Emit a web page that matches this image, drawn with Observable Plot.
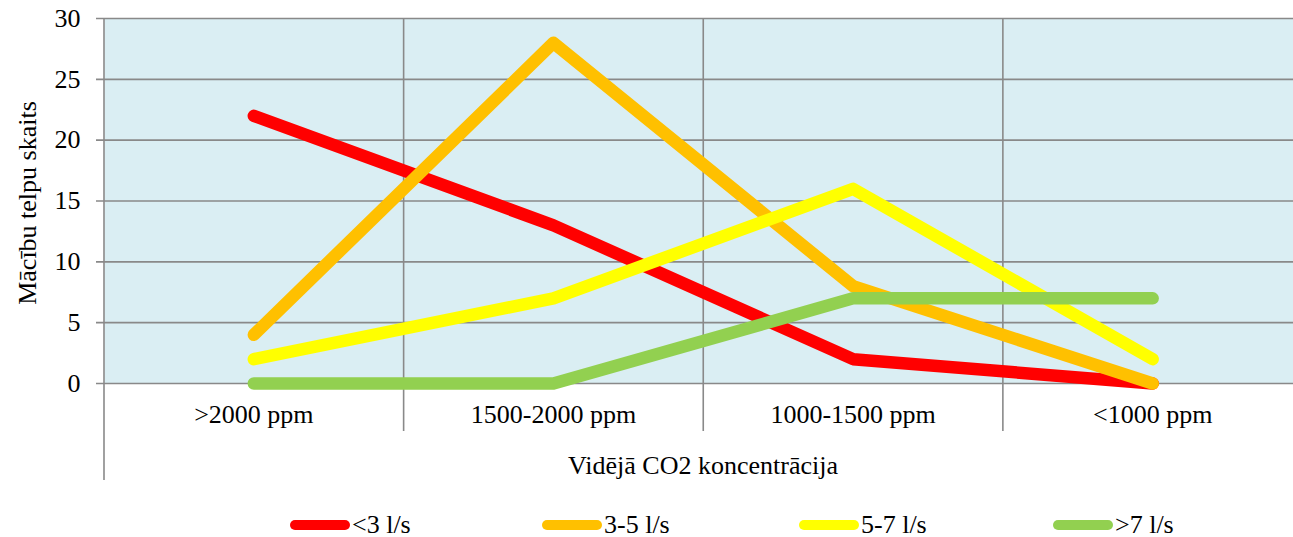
<!DOCTYPE html>
<html>
<head>
<meta charset="utf-8">
<script src="https://cdn.jsdelivr.net/npm/d3@7"></script>
<script src="https://cdn.jsdelivr.net/npm/@observablehq/plot@0.6"></script>
<style>
  html, body { margin: 0; padding: 0; background: #fff; overflow: hidden; }
  #wrap { position: relative; width: 1293px; height: 537px; font-family: "Liberation Serif", "Times New Roman", serif; }
  #legend { position: absolute; left: 0; top: 510px; width: 1293px; height: 30px; }
  .item { position: absolute; top: 0; height: 30px; display: flex; align-items: center; font-size: 26px; line-height: 30px; color: #000; }
  .sw { display: inline-block; width: 60px; height: 10px; border-radius: 5px; margin-right: 2px; }
</style>
</head>
<body>
<div id="wrap"><div id="chart"></div><div id="legend"></div></div>
<script>
const categories = [">2000 ppm", "1500-2000 ppm", "1000-1500 ppm", "<1000 ppm"];
const seriesNames = ["<3 l/s", "3-5 l/s", "5-7 l/s", ">7 l/s"];
const seriesColors = ["#FF0000", "#FFC000", "#FFFF00", "#92D050"];
const valsLt3 = [22, 13, 2, 0];
const vals3to5 = [4, 28, 8, 0];
const vals5to7 = [2, 7, 16, 2];
const valsGt7 = [0, 0, 7, 7];
const yTicks = [0, 5, 10, 15, 20, 25, 30];
const yLabel = "Mācību telpu skaits";
const xLabel = "Vidējā CO2 koncentrācija";

const allVals = [valsLt3, vals3to5, vals5to7, valsGt7];
const data = [];
seriesNames.forEach((s, si) => {
  allVals[si].forEach((v, ci) => data.push({series: s, i: ci, value: v}));
});

const font = "'Liberation Serif', 'Times New Roman', serif";
const grid = "#898989";
const idx = categories.map((_, i) => i);
const bounds = idx.slice(1).map(i => i - 0.5);

const chart = Plot.plot({
  width: 1293,
  height: 500,
  marginLeft: 104,
  marginRight: 0,
  marginTop: 18,
  marginBottom: 117,
  style: {fontFamily: font, fontSize: "26px", background: "white", color: "#000"},
  x: {type: "linear", domain: [-0.5, categories.length - 0.5], range: [103.5, 1302]},
  y: {domain: [0, 30], range: [383, 18]},
  color: {domain: seriesNames, range: seriesColors},
  marks: [
    Plot.frame({fill: "#DAEEF3", stroke: null}),
    Plot.ruleY(yTicks, {stroke: grid, strokeWidth: 1.6, insetLeft: -8}),
    Plot.ruleX(bounds, {stroke: grid, strokeWidth: 1.6, insetBottom: -48}),
    Plot.ruleX([-0.5], {stroke: grid, strokeWidth: 1.6, insetBottom: -97}),
    Plot.line(data, {x: "i", y: "value", z: "series", stroke: "series", strokeWidth: 12.5, strokeLinecap: "round", strokeLinejoin: "round"}),
    Plot.axisY({ticks: yTicks, tickSize: 0, tickPadding: 24, fontSize: 26, label: null}),
    Plot.axisX({ticks: idx, tickSize: 0, tickPadding: 21, fontSize: 26, tickFormat: i => categories[i], label: null}),
    Plot.text([xLabel], {frameAnchor: "bottom", dx: 4, dy: 82, fontSize: 26, lineAnchor: "middle"}),
    Plot.text([yLabel], {frameAnchor: "left", textAnchor: "middle", lineAnchor: "middle", rotate: -90, dx: -77, dy: 2, fontSize: 26})
  ]
});
document.getElementById("chart").appendChild(chart);

const legendLefts = [290, 542, 799, 1053];
const legend = document.getElementById("legend");
seriesNames.forEach((s, i) => {
  const it = document.createElement("div");
  it.className = "item";
  it.style.left = legendLefts[i] + "px";
  const sw = document.createElement("span");
  sw.className = "sw";
  sw.style.background = seriesColors[i];
  const tx = document.createElement("span");
  tx.textContent = s;
  it.appendChild(sw);
  it.appendChild(tx);
  legend.appendChild(it);
});
</script>
</body>
</html>
